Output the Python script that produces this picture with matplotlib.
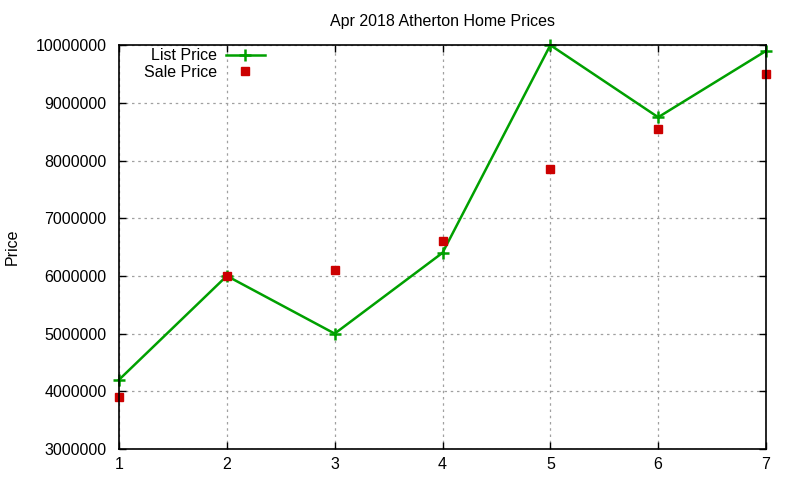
import matplotlib
matplotlib.use("Agg")
import matplotlib.pyplot as plt

# values
months = [1, 2, 3, 4, 5, 6, 7]
list_price = [4200000, 6000000, 5000000, 6400000, 10000000, 8750000, 9900000]
sale_price = [3900000, 6000000, 6100000, 6600000, 7850000, 8550000, 9500000]
y_ticks = [3000000, 4000000, 5000000, 6000000, 7000000, 8000000, 9000000, 10000000]


def main():
    plt.rcParams['font.family'] = ['Liberation Sans', 'DejaVu Sans']
    fig = plt.figure(figsize=(8, 4.8), dpi=100)
    ax = fig.add_axes([0.14875, 0.0646, 0.80875, 0.8414])

    # markers are not clipped at the border, as in gnuplot
    ax.plot(months, list_price, color='#00a000', linewidth=1.8,
            marker='+', markersize=9, markeredgewidth=1.8,
            label='List Price', clip_on=False, zorder=3)
    ax.plot(months, sale_price, linestyle='none', color='#cc0000',
            marker='s', markersize=6, label='Sale Price',
            clip_on=False, zorder=3)

    ax.set_xlim(1, 7)
    ax.set_ylim(3000000, 10000000)
    ax.set_xticks(months)
    ax.set_yticks(y_ticks)
    ax.set_yticklabels([str(v) for v in y_ticks])

    # gnuplot look: dotted grid, inward ticks on all four sides
    ax.grid(True, color='#a0a0a0', linestyle=(0, (2, 3)), linewidth=0.9)
    ax.tick_params(direction='in', length=5, width=1, labelsize=11.5,
                   top=True, right=True, colors='black')
    ax.tick_params(axis='x', pad=6)
    ax.tick_params(axis='y', pad=9)
    for s in ax.spines.values():
        s.set_linewidth(1.2)
        s.set_zorder(4)

    ax.set_title('Apr 2018 Atherton Home Prices', fontsize=11.5, pad=14)
    ax.set_ylabel('Price', fontsize=11.5, labelpad=11)

    ax.legend(loc='upper left', frameon=False, markerfirst=False,
              fontsize=11.5, handlelength=2.4, handletextpad=0.6,
              borderaxespad=0.0, labelspacing=0.1,
              bbox_to_anchor=(0.028, 1.008))

    fig.savefig('out.png', dpi=100)


if __name__ == "__main__":
    main()
